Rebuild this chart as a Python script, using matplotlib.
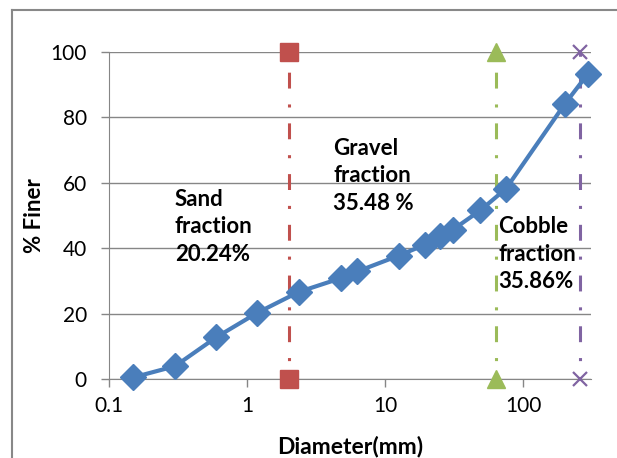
import matplotlib.pyplot as plt
from matplotlib.lines import Line2D
from matplotlib.ticker import FixedLocator, NullLocator

plt.rcParams['font.family'] = ['Lato', 'DejaVu Sans']

# sieve data
diameter = [0.15, 0.3, 0.6, 1.18, 2.36, 4.75, 6.3, 12.5, 19.5, 25, 31, 49, 75, 200, 295]
finer = [0.5, 3.9, 12.8, 20.2, 26.6, 30.8, 32.9, 37.7, 41.1, 43.6, 45.7, 51.6, 58.2, 84.1, 93.4]

# fraction limits (mm)
limits = [2, 64, 256]
limit_colors = ['#C0504D', '#9BBB59', '#8064A2']
limit_markers = ['s', '^', 'x']

labels = ['Sand\nfraction\n20.24%', 'Gravel\nfraction\n35.48 %', 'Cobble\nfraction\n35.86%']
label_x = [0.30, 4.2, 66]
label_y = [36.1, 51.7, 27.8]  # baseline of last line

fig = plt.figure(figsize=(6.17, 4.58), dpi=100)
ax = fig.add_axes([0.1767, 0.1725, 0.7813, 0.714])

# drawn top-down so the dash pattern starts under the top marker
for xv, c, m in zip(limits, limit_colors, limit_markers):
    ax.plot([xv, xv], [100, 0], color=c, lw=2.2, linestyle=(10, (5.2, 5.2, 1, 5.2)),
            marker=m, ms=13 if m != 'x' else 10, mew=1.6 if m == 'x' else 1,
            clip_on=False, zorder=3)

ax.plot(diameter, finer, color='#4A7EBB', lw=3, marker='D', ms=13,
        markerfacecolor='#4A7EBB', markeredgecolor='#4A7EBB', clip_on=False, zorder=4)

for t, xv, yv in zip(labels, label_x, label_y):
    ax.text(xv, yv, t, fontsize=16, fontweight='bold', va='baseline', ha='left',
            linespacing=1.38, zorder=5)

ax.set_xscale('log')
ax.set_xlim(0.1, 310)
ax.set_ylim(0, 100)
ax.xaxis.set_major_locator(FixedLocator([0.1, 1, 10, 100]))
ax.xaxis.set_minor_locator(NullLocator())
ax.set_xticklabels(['0.1', '1', '10', '100'])
ax.set_yticks([0, 20, 40, 60, 80, 100])
ax.tick_params(axis='both', labelsize=15, color='#868686', length=6, width=1)
ax.tick_params(axis='x', pad=6)
ax.tick_params(axis='y', pad=10)
ax.grid(axis='y', color='#868686', lw=1)
ax.set_axisbelow(True)
for s in ['top', 'right']:
    ax.spines[s].set_visible(False)
for s in ['left', 'bottom']:
    ax.spines[s].set_color('#868686')

ax.set_xlabel('Diameter(mm)', fontsize=16.5, fontweight='bold')
ax.set_ylabel('% Finer', fontsize=16, fontweight='bold')
ax.xaxis.set_label_coords(0.5, -0.172)
ax.yaxis.set_label_coords(-0.132, 0.5)

# chart border
fig.add_artist(Line2D([0.0194, 0.0194], [0, 0.978], color='#888888', lw=1.5))
fig.add_artist(Line2D([0.0194, 1], [0.978, 0.978], color='#888888', lw=1.5))

fig.savefig('out.png', dpi=100)
